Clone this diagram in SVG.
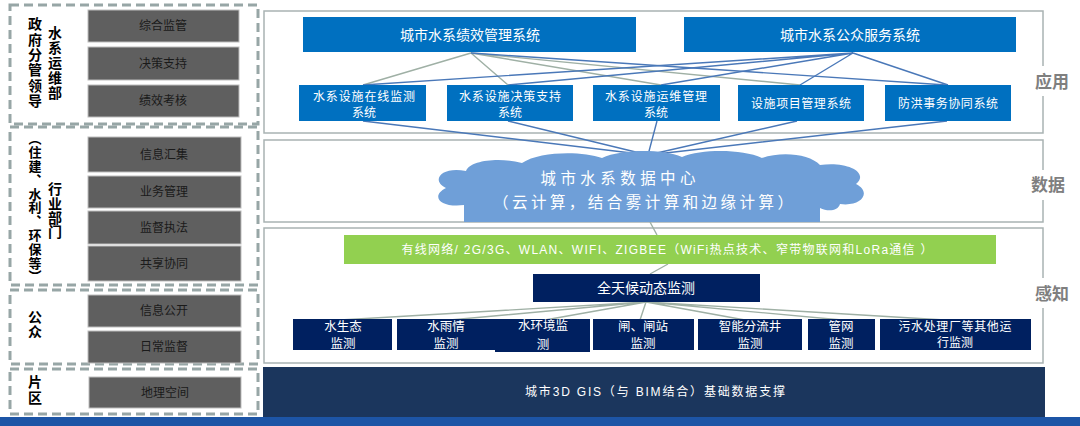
<svg xmlns="http://www.w3.org/2000/svg" width="1080" height="426" viewBox="0 0 1080 426">
<style>
.dash{fill:none;stroke:#97a6a6;stroke-width:3;stroke-dasharray:9 5}
.gbox{fill:#5f5f5f;stroke:#bdbdbd;stroke-width:1}
.gtxt{font-family:"Noto Sans CJK SC",sans-serif;font-size:12px;fill:#1a1a1a;text-anchor:middle}
.vl{font-family:"Noto Sans CJK SC",sans-serif;font-size:14px;font-weight:bold;fill:#000;writing-mode:vertical-rl}
.layer{fill:#fff;stroke:#a9b3b3;stroke-width:1.5}
.ll{font-family:"Noto Sans CJK SC",sans-serif;font-size:17px;font-weight:bold;fill:#7f7f7f;text-anchor:middle}
.bbox{fill:#0070c0}
.nbox{fill:#002060}
.wt{font-family:"Noto Sans CJK SC",sans-serif;fill:#fff;text-anchor:middle}
.st{font-family:"Noto Sans CJK SC",sans-serif;fill:#fff;text-anchor:middle;font-size:12.5px}
.cg{stroke:#9fb0a5;stroke-width:1.4;fill:none}
.cb{stroke:#4a78b8;stroke-width:1.4;fill:none}
</style>
<rect width="1080" height="426" fill="#fff"/>

<!-- left groups -->
<g id="gov">
<rect class="dash" x="10" y="5" width="248" height="119"/>
<text class="vl" x="35" y="17" letter-spacing="1.3">政府分管领导</text>
<text class="vl" x="55" y="26" letter-spacing="1">水系运维部</text>
<rect class="gbox" x="88" y="10" width="151" height="32"/><text class="gtxt" x="163" y="30">综合监管</text>
<rect class="gbox" x="88" y="47" width="151" height="33"/><text class="gtxt" x="163" y="68">决策支持</text>
<rect class="gbox" x="88" y="85" width="151" height="32"/><text class="gtxt" x="163" y="105">绩效考核</text>
</g>
<g id="industry">
<rect class="dash" x="10" y="127" width="248" height="158"/>
<text class="vl" x="35" y="132" letter-spacing="0.8" style="font-size:13px">（住建、水利、环保等）</text>
<text class="vl" x="55" y="182" letter-spacing="0.3">行业部门</text>
<rect class="gbox" x="88" y="137" width="153" height="35"/><text class="gtxt" x="164" y="159">信息汇集</text>
<rect class="gbox" x="88" y="176" width="153" height="32"/><text class="gtxt" x="164" y="196">业务管理</text>
<rect class="gbox" x="88" y="211" width="153" height="33"/><text class="gtxt" x="164" y="232">监督执法</text>
<rect class="gbox" x="88" y="246" width="153" height="35"/><text class="gtxt" x="164" y="268">共享协同</text>
</g>
<g id="public">
<rect class="dash" x="10" y="290" width="248" height="74"/>
<text class="vl" x="35" y="310" letter-spacing="1">公众</text>
<rect class="gbox" x="88" y="295" width="153" height="32"/><text class="gtxt" x="164" y="315">信息公开</text>
<rect class="gbox" x="88" y="331" width="153" height="32"/><text class="gtxt" x="164" y="351">日常监督</text>
</g>
<g id="district">
<rect class="dash" x="10" y="369" width="248" height="45"/>
<text class="vl" x="35" y="375" letter-spacing="2">片区</text>
<rect class="gbox" x="89" y="377" width="152" height="31"/><text class="gtxt" x="165" y="397">地理空间</text>
</g>

<!-- layers -->
<g id="layer-app">
<rect class="layer" x="264" y="11" width="779" height="122"/>
<rect x="1030" y="66" width="40" height="30" fill="#fff"/>
<text class="ll" x="1052" y="88">应用</text>
</g>
<g id="layer-data">
<rect class="layer" x="264" y="140" width="779" height="82"/>
<rect x="1030" y="170" width="40" height="30" fill="#fff"/>
<text class="ll" x="1048" y="191">数据</text>
</g>
<g id="layer-sense">
<rect class="layer" x="264" y="228" width="779" height="135"/>
<rect x="1030" y="278" width="45" height="30" fill="#fff"/>
<text class="ll" x="1052" y="300">感知</text>
</g>

<!-- connectors -->
<g id="connectors">
<path class="cg" d="M471 53L363 85M471 53L508 85M471 53L661 85M471 53L800 85"/>
<path class="cb" d="M471 53L946 85"/>
<path class="cb" d="M853 53L363 85M853 53L508 85M853 53L661 85M853 53L800 85M853 53L948 85"/>
<path class="cb" d="M363 121L648 155M508 121L648 155M657 121L648 155M797 121L648 155M947 121L648 155"/>
<path class="cg" d="M650 222L657 235M668 264L650 274"/>
<path class="cg" d="M646 302L340 320M646 302L450 320M646 302L545 320M646 302L640 320M646 302L745 320M646 302L842 320M646 302L945 320"/>
</g>

<!-- app nodes -->
<g id="perf-sys"><rect class="bbox" x="303" y="17" width="333" height="35"/><text class="wt" x="470" y="40" font-size="14">城市水系绩效管理系统</text></g>
<g id="pub-sys"><rect class="bbox" x="684" y="17" width="332" height="35"/><text class="wt" x="850" y="40" font-size="14">城市水系公众服务系统</text></g>
<g id="app1"><rect class="bbox" x="299" y="85" width="127" height="36"/><text class="wt" x="364" y="101" font-size="12" textLength="102">水系设施在线监测</text><text class="wt" x="364" y="117" font-size="12">系统</text></g>
<g id="app2"><rect class="bbox" x="447" y="85" width="126" height="36"/><text class="wt" x="510" y="101" font-size="12" textLength="102">水系设施决策支持</text><text class="wt" x="510" y="117" font-size="12">系统</text></g>
<g id="app3"><rect class="bbox" x="593" y="85" width="127" height="36"/><text class="wt" x="656" y="101" font-size="12" textLength="102">水系设施运维管理</text><text class="wt" x="656" y="117" font-size="12">系统</text></g>
<g id="app4"><rect class="bbox" x="738" y="85" width="126" height="36"/><text class="wt" x="801" y="108" font-size="12" textLength="100">设施项目管理系统</text></g>
<g id="app5"><rect class="bbox" x="885" y="85" width="126" height="36"/><text class="wt" x="948" y="108" font-size="12" textLength="100">防洪事务协同系统</text></g>

<!-- data node -->
<g id="datacenter">
<path fill="#6f9fd8" d="M464 222L464 205C440 208 430 196 446 188C430 180 442 166 466 171C470 160 500 157 522 163C540 151 582 151 602 158C622 149 662 149 682 157C702 149 742 149 762 158C782 151 810 154 820 165C846 161 870 172 856 184C872 192 862 207 840 204C838 211 828 212 820 208L820 222Z"/>
<text class="wt" x="618" y="184" font-size="15.5" textLength="155">城市水系数据中心</text>
<text class="wt" x="643" y="207.5" font-size="15.5" textLength="300">（云计算，结合雾计算和边缘计算）</text>
</g>

<!-- sense nodes -->
<g id="network"><rect fill="#92d050" x="344" y="235" width="652" height="29"/><text x="667" y="254" font-family="Liberation Sans,Noto Sans CJK SC,sans-serif" font-size="12" fill="#fff" text-anchor="middle" textLength="531">有线网络/ 2G/3G、WLAN、WIFI、ZIGBEE（WiFi热点技术、窄带物联网和LoRa通信 ）</text></g>
<g id="allweather"><rect class="nbox" x="533" y="274" width="227" height="28"/><text class="wt" x="646" y="293" font-size="14">全天候动态监测</text></g>
<g id="s1"><rect class="nbox" x="293" y="319" width="99" height="31"/><text class="st" x="343" y="331">水生态</text><text class="st" x="343" y="348">监测</text></g>
<g id="s2"><rect class="nbox" x="397" y="319" width="98" height="31"/><text class="st" x="446" y="331">水雨情</text><text class="st" x="446" y="348">监测</text></g>
<g id="s3"><rect class="nbox" x="495" y="319" width="95" height="33"/><text class="st" x="543" y="330">水环境监</text><text class="st" x="543" y="349">测</text></g>
<g id="s4"><rect class="nbox" x="593" y="319" width="101" height="31"/><text class="st" x="643" y="331">闸、闸站</text><text class="st" x="643" y="348">监测</text></g>
<g id="s5"><rect class="nbox" x="698" y="319" width="104" height="31"/><text class="st" x="750" y="331">智能分流井</text><text class="st" x="750" y="348">监测</text></g>
<g id="s6"><rect class="nbox" x="808" y="319" width="67" height="31"/><text class="st" x="841" y="331">管网</text><text class="st" x="841" y="348">监测</text></g>
<g id="s7"><rect class="nbox" x="880" y="319" width="151" height="31"/><text class="wt" x="955" y="331" font-size="12" textLength="113">污水处理厂等其他运</text><text class="wt" x="955" y="347" font-size="12">行监测</text></g>

<!-- base -->
<g id="gis"><rect fill="#1b365d" x="263" y="367" width="782" height="50"/><text x="655" y="396" font-family="Liberation Sans,Noto Sans CJK SC,sans-serif" font-size="12" fill="#fff" text-anchor="middle" textLength="260">城市3D GIS（与 BIM结合）基础数据支撑</text></g>
<rect x="0" y="417" width="1080" height="9" fill="#1d55a6"/>
</svg>
